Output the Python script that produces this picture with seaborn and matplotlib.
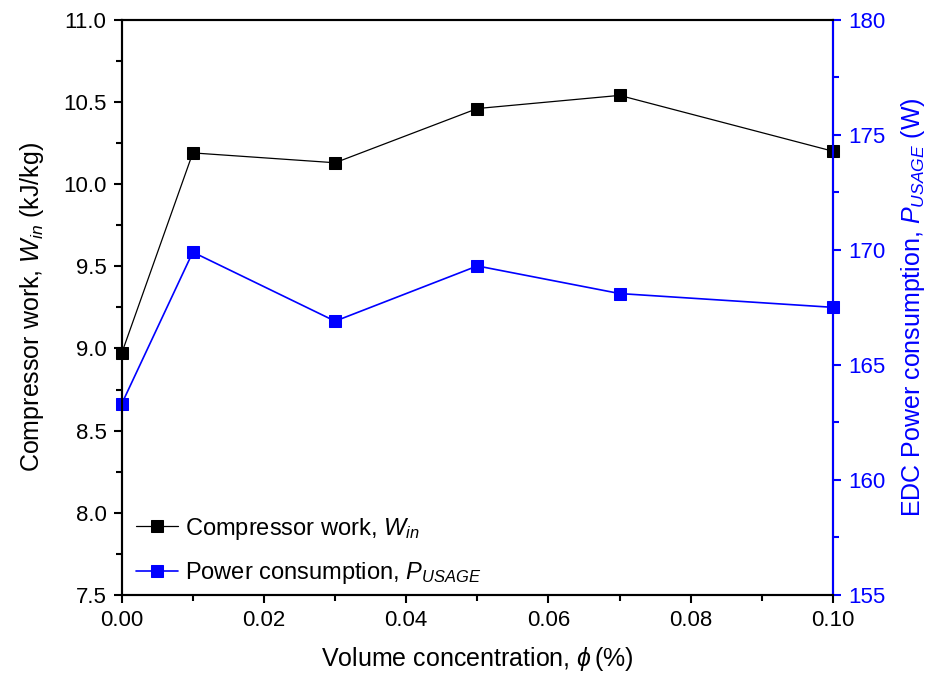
import matplotlib
matplotlib.use("Agg")
import matplotlib.pyplot as plt
import seaborn as sns
import pandas as pd
from matplotlib.ticker import MultipleLocator, FormatStrFormatter

sns.set_style("ticks", {"axes.edgecolor": "black", "text.color": "black",
                        "axes.labelcolor": "black", "xtick.color": "black",
                        "ytick.color": "black"})
plt.rcParams['font.family'] = ['Liberation Sans', 'DejaVu Sans']
plt.rcParams['mathtext.fontset'] = 'custom'
plt.rcParams['mathtext.rm'] = 'Liberation Sans'
plt.rcParams['mathtext.it'] = 'Liberation Sans:italic'
plt.rcParams['mathtext.bf'] = 'Liberation Sans:bold'

# data
phi = [0.00, 0.01, 0.03, 0.05, 0.07, 0.10]
work = [8.97, 10.19, 10.13, 10.46, 10.54, 10.20]
power = [163.3, 169.9, 166.9, 169.3, 168.1, 167.5]

df = pd.DataFrame({"phi": phi, "work": work, "power": power})

fig, ax = plt.subplots(figsize=(9.36, 6.83), dpi=100)
fig.subplots_adjust(left=0.130, right=0.890, top=0.971, bottom=0.129)
ax2 = ax.twinx()

sns.lineplot(data=df, x="phi", y="work", ax=ax, color="black", lw=0.9,
             marker="s", markersize=9, markeredgecolor="black", clip_on=False,
             label=r"Compressor work, $W_{in}$", legend=False)
sns.lineplot(data=df, x="phi", y="power", ax=ax2, color="blue", lw=1.2,
             marker="s", markersize=9, markeredgecolor="blue", clip_on=False,
             label=r"Power consumption, $P_{USAGE}$", legend=False)

ax.set_xlim(0, 0.10)
ax.set_ylim(7.5, 11.0)
ax2.set_ylim(155, 180)

ax.xaxis.set_major_locator(MultipleLocator(0.02))
ax.xaxis.set_minor_locator(MultipleLocator(0.01))
ax.yaxis.set_major_locator(MultipleLocator(0.5))
ax.yaxis.set_minor_locator(MultipleLocator(0.25))
ax2.yaxis.set_major_locator(MultipleLocator(5))
ax2.yaxis.set_minor_locator(MultipleLocator(2.5))
ax.xaxis.set_major_formatter(FormatStrFormatter('%.2f'))
ax.yaxis.set_major_formatter(FormatStrFormatter('%.1f'))

for a in (ax, ax2):
    for s in a.spines.values():
        s.set_linewidth(1.5)
        s.set_visible(True)
        s.set_color('black')
ax2.spines['right'].set_color('blue')

ax.tick_params(axis='both', which='major', direction='out', length=6, width=1.5,
               labelsize=16, pad=5, colors='black')
ax.tick_params(axis='both', which='minor', direction='out', length=4, width=1.5,
               colors='black')
ax2.tick_params(axis='y', which='major', direction='out', length=6, width=1.5,
                labelsize=16, colors='blue', pad=5)
ax2.tick_params(axis='y', which='minor', direction='out', length=4, width=1.5, colors='blue')

ax.set_xlabel(r"Volume concentration, $\phi\,$(%)", fontsize=18, labelpad=10)
ax.set_ylabel(r"Compressor work, $W_{in}$ (kJ/kg)", fontsize=18, labelpad=12)
ax2.set_ylabel(r"EDC Power consumption, $P_{USAGE}$ (W)", fontsize=18,
               color='blue', labelpad=10)

h1, l1 = ax.get_legend_handles_labels()
h2, l2 = ax2.get_legend_handles_labels()
ax.legend(h1 + h2, l1 + l2, loc='lower left', frameon=False, fontsize=17,
          handlelength=1.8, handletextpad=0.3, labelspacing=0.8,
          borderaxespad=0.2, bbox_to_anchor=(0.0, -0.01))

fig.savefig("out.png", dpi=100)
